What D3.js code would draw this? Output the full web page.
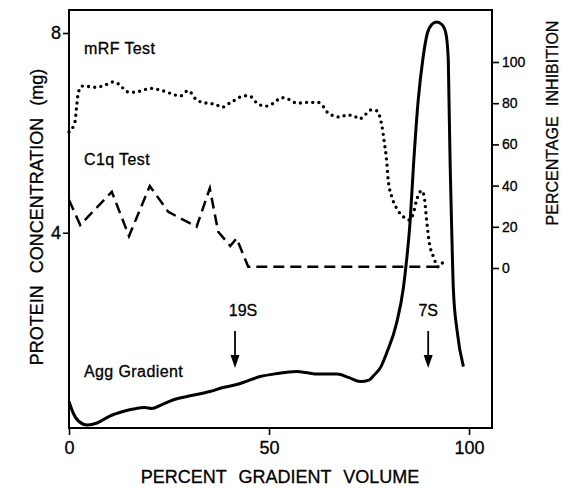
<!DOCTYPE html>
<html>
<head>
<meta charset="utf-8">
<script src="https://cdn.jsdelivr.net/npm/d3@7"></script>
<style>
  body { margin: 0; background: #fff; }
  svg { display: block; font-family: "Liberation Sans", Arial, sans-serif; }
  text { fill: #000; stroke: #000; stroke-width: 0.3px; }
</style>
</head>
<body>
<svg id="chart" width="562" height="488"></svg>
<script>
// data -----------------------------------------------------
var pctTicks = [0, 50, 100];
var proteinTicks = [4, 8];
var inhibTicks = [0, 20, 40, 60, 80, 100];

// Agg Gradient: protein (mg) vs percent gradient volume
var aggX = [0, 1, 2.5, 4.6, 7, 10.2, 13.5, 16.1, 19, 20.7, 23, 26, 30, 35.2, 38.5, 41.9, 44.5, 47.8, 52, 56.9, 60, 62, 67, 70, 72.8, 75, 76.3, 78, 79.4, 81.9, 83.6, 84.4, 85.3, 86.1, 87.3, 88.5, 89.6, 90.7, 91.9, 93.2, 94.2, 94.8, 95.0, 95.3, 95.7, 96.1, 97.0, 98.6];
var aggY = [0.62, 0.4, 0.22, 0.15, 0.19, 0.33, 0.42, 0.47, 0.5, 0.48, 0.55, 0.65, 0.73, 0.82, 0.9, 0.96, 1.03, 1.12, 1.18, 1.22, 1.19, 1.17, 1.17, 1.1, 1.02, 1.05, 1.15, 1.32, 1.59, 2.19, 2.9, 3.45, 4.25, 5.32, 6.65, 7.5, 8.0, 8.17, 8.22, 8.17, 8.0, 7.5, 6.65, 5.32, 3.99, 2.85, 2.05, 1.32];

// mRF Test: percentage inhibition
var mrfX = [0, 1.5, 1.9, 2.3, 3.2, 5.3, 6.9, 9, 10.9, 12.8, 14.4, 16.5, 18.6, 20.4, 22.8, 25.3, 27.8, 29.8, 31.9, 34.4, 36.5, 38.2, 40.3, 44, 45.4, 47.3, 49.4, 51.1, 53.2, 55.3, 56.9, 59.4, 62.3, 63.6, 64.8, 66.5, 67.8, 69.4, 71.3, 72.6, 74, 75.4, 76.8, 77.8, 78.4, 78.8, 79.4, 79.8, 80.7, 81.9, 83.6, 85.1, 86.1, 86.9, 88.2, 88.8, 89.4, 90.1, 91.1, 92.3, 93.8];
var mrfY = [66, 71, 78.3, 84.8, 88.3, 88, 87.7, 88.8, 90.3, 88.8, 85.6, 85.3, 86.4, 87.2, 86.4, 84.8, 83.5, 86.1, 81.6, 80, 79.6, 78, 80.2, 83.6, 83.2, 79.5, 78.6, 80, 82.7, 81.6, 80, 80.4, 80.4, 78.3, 75.1, 73.8, 73.2, 74.3, 73.8, 72.3, 74.3, 76.7, 76.4, 72.7, 67, 61.3, 52.4, 42.7, 34.6, 29, 24.9, 23.3, 26.6, 33, 37.5, 34.6, 23.3, 12, 5.5, 0.6, 3.9];

// C1q Test: percentage inhibition
var c1qX = [0, 2.8, 10.7, 15, 20.2, 24.8, 31.9, 35.2, 37.3, 40.3, 41.9, 44.8, 92];
var c1qY = [33, 20.9, 37, 15.5, 39.8, 27.3, 20, 38.7, 17.6, 10.7, 14.4, 0.6, 0.6];

var markerNames = ['19S', '7S'];
var markerX = [41.5, 89.8];

// layout --------------------------------------------------
var boxLeft = 69, boxRight = 492, boxTop = 10, boxBottom = 428;

var scaleX = d3.scaleLinear().domain([0, 100]).range([69, 469]);
var scaleP = d3.scaleLinear().domain([0, 8]).range([432.5, 33]);
var scaleI = d3.scaleLinear().domain([0, 100]).range([268, 62]);

var svg = d3.select('#chart');

// frame
svg.append('rect')
    .attr('x', boxLeft).attr('y', boxTop)
    .attr('width', boxRight - boxLeft).attr('height', boxBottom - boxTop)
    .attr('fill', 'none').attr('stroke', '#000').attr('stroke-width', 2);

// bottom axis
var xAxis = svg.append('g')
    .attr('transform', 'translate(0,' + boxBottom + ')')
    .call(d3.axisBottom(scaleX).tickValues(pctTicks).tickSize(7).tickPadding(6));
xAxis.selectAll('text').style('font-size', '18px');

// left axis
var yAxis = svg.append('g')
    .attr('transform', 'translate(' + boxLeft + ',0)')
    .call(d3.axisLeft(scaleP).tickValues(proteinTicks).tickSize(6).tickPadding(2));
yAxis.selectAll('text').style('font-size', '18px');

// right axis
var rAxis = svg.append('g')
    .attr('transform', 'translate(' + boxRight + ',0)')
    .call(d3.axisRight(scaleI).tickValues(inhibTicks).tickSize(7).tickPadding(3));
rAxis.selectAll('text').style('font-size', '14px');

svg.selectAll('.domain').remove();
svg.selectAll('.tick line').attr('stroke', '#000').attr('stroke-width', 1.6);

// axis titles
svg.append('text')
    .attr('x', 280).attr('y', 483)
    .attr('text-anchor', 'middle')
    .style('font-size', '18px').style('word-spacing', '7px')
    .text('PERCENT GRADIENT VOLUME');

svg.append('text')
    .attr('transform', 'translate(43,217) rotate(-90)')
    .attr('text-anchor', 'middle')
    .style('font-size', '18px').style('word-spacing', '7px')
    .text('PROTEIN CONCENTRATION (mg)');

svg.append('text')
    .attr('transform', 'translate(558,123) rotate(-90)')
    .attr('text-anchor', 'middle')
    .style('font-size', '16px').style('word-spacing', '6px')
    .text('PERCENTAGE INHIBITION');

// lines
var aggLine = d3.line()
    .x(function(d, i) { return scaleX(aggX[i]); })
    .y(function(d, i) { return scaleP(aggY[i]); })
    .curve(d3.curveMonotoneX);

var mrfLine = d3.line()
    .x(function(d, i) { return scaleX(mrfX[i]); })
    .y(function(d, i) { return scaleI(mrfY[i]); })
    .curve(d3.curveMonotoneX);

var c1qLine = d3.line()
    .x(function(d, i) { return scaleX(c1qX[i]); })
    .y(function(d, i) { return scaleI(c1qY[i]); });

svg.append('path')
    .attr('d', mrfLine(mrfX))
    .attr('fill', 'none').attr('stroke', '#000')
    .attr('stroke-width', 3.4).attr('stroke-linecap', 'round')
    .attr('stroke-dasharray', '0,6.2');

svg.append('path')
    .attr('d', c1qLine(c1qX))
    .attr('fill', 'none').attr('stroke', '#000')
    .attr('stroke-width', 2.5)
    .attr('stroke-dasharray', '11,6');

svg.append('path')
    .attr('d', aggLine(aggX))
    .attr('fill', 'none').attr('stroke', '#000')
    .attr('stroke-width', 3).attr('stroke-linejoin', 'round');

// curve labels
var labelStyle = function(t) { t.style('font-size', '16px').style('letter-spacing', '0.4px'); };
svg.append('text').attr('x', 84).attr('y', 54).call(labelStyle).text('mRF Test');
svg.append('text').attr('x', 84).attr('y', 165).call(labelStyle).text('C1q Test');
svg.append('text').attr('x', 84).attr('y', 377).call(labelStyle).text('Agg Gradient');

// sedimentation markers
var markers = svg.selectAll('.marker')
    .data(markerNames)
    .enter().append('g')
    .attr('class', 'marker')
    .attr('transform', function(d, i) { return 'translate(' + scaleX(markerX[i]) + ',0)'; });

markers.append('text')
    .attr('x', function(d, i) { return i == 0 ? 8 : 0; })
    .attr('y', 316)
    .attr('text-anchor', 'middle')
    .style('font-size', '16px')
    .text(function(d) { return d; });

markers.append('line')
    .attr('x1', 0).attr('x2', 0)
    .attr('y1', 331).attr('y2', 362)
    .attr('stroke', '#000').attr('stroke-width', 1.8);

markers.append('path')
    .attr('d', 'M-4.5,355 L4.5,355 L0,368 Z')
    .attr('fill', '#000');
</script>
</body>
</html>
